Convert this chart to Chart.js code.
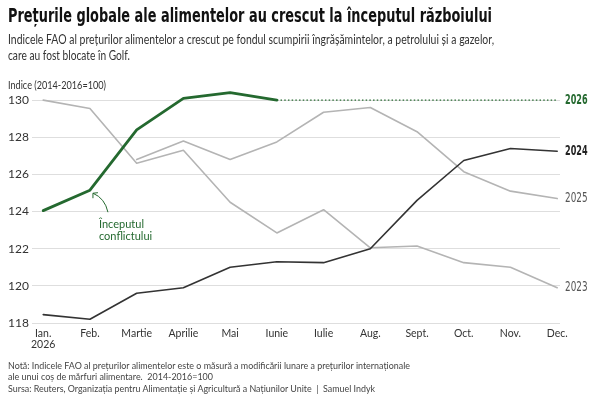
<!DOCTYPE html>
<html>
<head>
<meta charset="utf-8">
<script src="https://cdn.jsdelivr.net/npm/chart.js"></script>
<style>
   body { margin: 0; width: 600px; height: 400px; background: #fff; position: relative; overflow: hidden;
          font-family: Lato, "DejaVu Sans Condensed", sans-serif; }
   canvas { position: absolute; left: 0; top: 0; }
   .t { position: absolute; left: 8px; white-space: nowrap; transform-origin: 0 0; }
   .titlu { font-family: "DejaVu Sans Condensed", Lato, sans-serif; }
</style>
</head>
<body>
<canvas id="grafico" width="600" height="400"></canvas>

<div class="t titlu" data-w="484" style="top:5.6px;font-size:19px;line-height:19px;font-weight:bold;color:#111">Prețurile globale ale alimentelor au crescut la începutul războiului</div>
<div class="t" data-w="486" style="top:33.5px;font-size:12.5px;line-height:12.5px;color:#333">Indicele FAO al prețurilor alimentelor a crescut pe fondul scumpirii îngrășămintelor, a petrolului și a gazelor,</div>
<div class="t" data-w="122" style="top:50px;font-size:12.5px;line-height:12.5px;color:#333">care au fost blocate în Golf.</div>
<div class="t" data-w="98" style="top:80.4px;font-size:10.5px;line-height:10.5px;color:#333">Indice (2014-2016=100)</div>
<div class="t" data-w="402" style="top:360px;font-size:10px;line-height:10px;color:#444">Notă: Indicele FAO al prețurilor alimentelor este o măsură a modificării lunare a prețurilor internaționale</div>
<div class="t" data-w="205" style="top:371px;font-size:10px;line-height:10px;color:#444">ale unui coș de mărfuri alimentare.&nbsp; 2014-2016=100</div>
<div class="t" data-w="367" style="top:382.5px;font-size:10px;line-height:10px;color:#444">Sursa: Reuters, Organizația pentru Alimentație și Agricultură a Națiunilor Unite&nbsp; |&nbsp; Samuel Indyk</div>

<script>
// valori
const luni = ['Ian.', 'Feb.', 'Martie', 'Aprilie', 'Mai', 'Iunie', 'Iulie', 'Aug.', 'Sept.', 'Oct.', 'Nov.', 'Dec.'];
const anStart = '2026';
const an2026 = [124.05, 125.15, 128.4, 130.1, 130.4, 130.0];
const an2025 = [null, null, 126.8, 127.8, 126.8, 127.75, 129.35, 129.6, 128.3, 126.15, 125.1, 124.7];
const an2024 = [118.45, 118.2, 119.6, 119.9, 121.0, 121.3, 121.25, 122.0, 124.6, 126.75, 127.4, 127.25];
const an2023 = [130.0, 129.55, 126.6, 127.3, 124.5, 122.85, 124.1, 122.05, 122.15, 121.25, 121.0, 119.9];
const yTicks = [118, 120, 122, 124, 126, 128, 130];

const VERDE = '#24692f';
const GRI = '#b4b4b4';
const NEGRU = '#333333';
const FONT = 'Lato, "DejaVu Sans Condensed", sans-serif';
const FONT_ANI = '"DejaVu Sans Condensed", Lato, sans-serif';

// 2026: ultima valoare continuata punctat pana in decembrie
const ultim2026 = an2026[an2026.length - 1];
const proiectie = luni.map((m, i) => i >= an2026.length - 1 ? ultim2026 : null);

const puncte = arr => arr.map((v, i) => ({ x: i, y: v }));

// fit la latime pentru textele html
document.querySelectorAll('[data-w]').forEach(el => {
   const w = el.getBoundingClientRect().width;
   el.style.transform = 'scaleX(' + (el.dataset.w / w) + ')';
});

const eticheteAni = {
   id: 'eticheteAni',
   afterDatasetsDraw(chart) {
      const { ctx, chartArea, scales: { x, y } } = chart;
      ctx.save();
      chart.data.datasets.forEach(ds => {
         if (!ds.eticheta) return;
         const vals = ds.data.filter(p => p.y !== null);
         const last = vals[vals.length - 1];
         ctx.save();
         ctx.font = (ds.bold ? 'bold ' : '') + '13.5px ' + FONT_ANI;
         ctx.fillStyle = ds.culoareEticheta;
         ctx.textBaseline = 'middle';
         ctx.textAlign = 'left';
         // eticheta ingustata ca in original
         ctx.translate(chartArea.right + 5, y.getPixelForValue(last.y));
         ctx.scale(22.5 / ctx.measureText(ds.eticheta).width, 1);
         ctx.fillText(ds.eticheta, 0, 0);
         ctx.restore();
      });

      // adnotare: inceputul conflictului (la februarie)
      const px = x.getPixelForValue(1);
      const py = y.getPixelForValue(an2026[1]);
      ctx.strokeStyle = VERDE;
      ctx.lineWidth = 1;
      ctx.beginPath();
      ctx.moveTo(px + 18, py + 22);
      ctx.quadraticCurveTo(px + 15, py + 8, px + 3, py + 3);
      ctx.stroke();
      ctx.beginPath();
      ctx.moveTo(px + 3, py + 8);
      ctx.lineTo(px + 3, py + 3);
      ctx.lineTo(px + 8, py + 2.5);
      ctx.stroke();
      ctx.fillStyle = VERDE;
      ctx.font = '11px ' + FONT;
      ctx.textBaseline = 'alphabetic';
      ctx.fillText('Începutul', px + 9, py + 37.5);
      ctx.fillText('conflictului', px + 9, py + 50);
      ctx.restore();
   }
};

const grafic = document.getElementById('grafico').getContext('2d');
const chart1 = new Chart(grafic, {
   type: 'line',
   data: {
      datasets: [
         { label: '2026', data: puncte(an2026), borderColor: VERDE, borderWidth: 2.8, clip: false },
         { label: '2026 punctat', data: puncte(proiectie), borderColor: VERDE, borderWidth: 1.3, borderDash: [1.5, 2.2],
           borderCapStyle: 'butt', eticheta: '2026', culoareEticheta: VERDE, bold: true },
         { label: '2024', data: puncte(an2024), borderColor: NEGRU, borderWidth: 1.6,
           eticheta: '2024', culoareEticheta: '#222', bold: true },
         { label: '2025', data: puncte(an2025), borderColor: GRI, borderWidth: 1.6,
           eticheta: '2025', culoareEticheta: '#555' },
         { label: '2023', data: puncte(an2023), borderColor: GRI, borderWidth: 1.6,
           eticheta: '2023', culoareEticheta: '#555' }
      ]
   },
   options: {
      responsive: false,
      animation: false,
      layout: { padding: { left: 8, top: 89, right: 40, bottom: 47 } },
      plugins: { legend: { display: false }, tooltip: { enabled: false } },
      elements: {
         point: { radius: 0 },
         line: { tension: 0, borderJoinStyle: 'round', borderCapStyle: 'round' }
      },
      scales: {
         x: {
            type: 'linear', min: -0.24, max: 11.06,
            grid: { display: false, drawTicks: false },
            border: { display: false },
            afterBuildTicks: s => { s.ticks = luni.map((m, i) => ({ value: i })); },
            afterFit: s => { s.height = 30; },
            ticks: {
               autoSkip: false, maxRotation: 0, padding: 5.5, color: '#333',
               font: { family: FONT, size: 10.5, lineHeight: 1.05 },
               callback: v => v === 0 ? [luni[0], anStart] : luni[v]
            }
         },
         y: {
            min: 118, max: 130.6,
            afterBuildTicks: s => { s.ticks = yTicks.map(v => ({ value: v })); },
            afterFit: s => { s.width = 24; },
            grid: { color: '#dedede', drawTicks: false },
            border: { display: false },
            ticks: { crossAlign: 'far', padding: 0, color: '#333', font: { family: FONT, size: 12 } }
         }
      }
   },
   plugins: [eticheteAni]
});
</script>
</body>
</html>
